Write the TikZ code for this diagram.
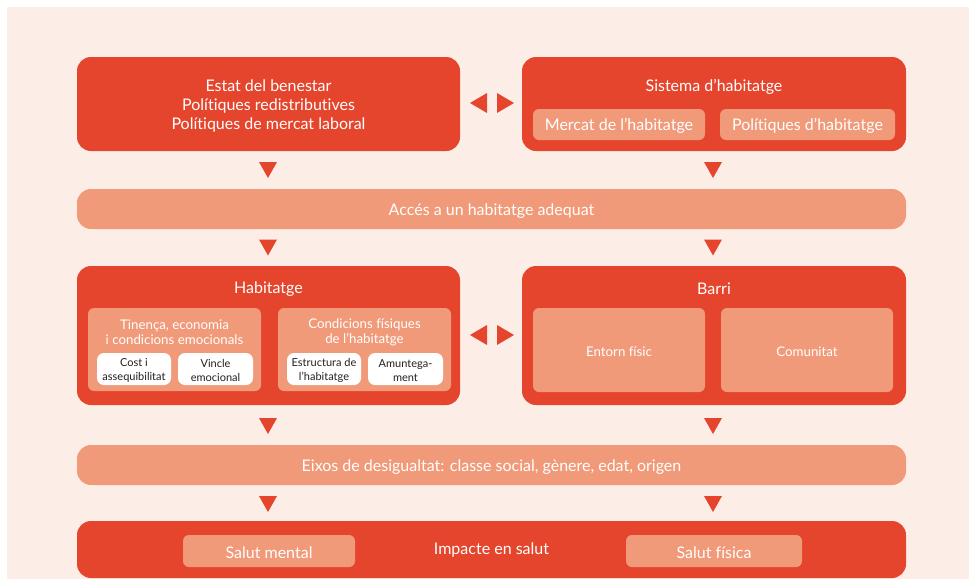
\documentclass[tikz,border=0pt]{standalone}
\usepackage{fontspec}
\setmainfont{Lato}[Ligatures=NoCommon]
\definecolor{cred}{HTML}{E5452C}
\definecolor{csal}{HTML}{F19A79}
\definecolor{cbg}{HTML}{FCEEE7}
\definecolor{cdark}{HTML}{231F20}
\tikzset{
  box/.style={rectangle, inner sep=0pt, outer sep=0pt},
  bigbox/.style={box, fill=cred, rounded corners=14pt},
  bar/.style={box, fill=csal, rounded corners=14pt},
  subbox/.style={box, fill=csal, rounded corners=6pt},
  wbox/.style={box, fill=white, rounded corners=7pt},
  tx/.style={inner sep=0pt, outer sep=0pt, align=center, text=white, yshift=-1.6pt},
  big/.style={font=\fontsize{16}{19}\selectfont},
  mid/.style={font=\fontsize{13.3}{15.5}\selectfont},
  sml/.style={font=\fontsize{11}{13.5}\selectfont, text=cdark},
  ttl/.style={tx, big},
  sttl/.style={tx, mid},
  downtri/.pic={\fill[cred] (-9,-8) -- (9,-8) -- (0,8) -- cycle;},
  lefttri/.pic={\fill[cred] (8.5,-10) -- (8.5,10) -- (-8.5,0) -- cycle;},
  righttri/.pic={\fill[cred] (-8.5,-10) -- (-8.5,10) -- (8.5,0) -- cycle;}
}
\begin{document}
\begin{tikzpicture}[x=1pt,y=-1pt]
\useasboundingbox (0,0) rectangle (969,579);
\fill[cbg] (7,7) rectangle (969,579);
% top row
\node[bigbox, minimum width=383pt, minimum height=94pt,
  label={[tx,big]center:{Estat del benestar\\Polítiques redistributives\\Polítiques de mercat laboral}}] (estat) at (268.5,104) {};
\node[bigbox, minimum width=384pt, minimum height=94pt] (sistema) at (714,104) {};
\node[ttl] (sistemaT) at (714,85) {Sistema d’habitatge};
\node[subbox, minimum width=172pt, minimum height=31pt, label={[tx,big]center:{Mercat de l’habitatge}}] (mercat) at (619,124.5) {};
\node[subbox, minimum width=175pt, minimum height=31pt, label={[tx,big]center:{Polítiques d’habitatge}}] (polit) at (807.5,124.5) {};
\pic at (478.5,103) {lefttri};
\pic at (505.5,103) {righttri};
\pic at (268,170) {downtri};
\pic at (713,170) {downtri};
% acces
\node[bar, minimum width=829pt, minimum height=40pt, label={[tx,big]center:{Accés a un habitatge adequat}}] (acces) at (491.5,209) {};
\pic at (268,247.5) {downtri};
\pic at (713,247.5) {downtri};
% middle row
\node[bigbox, minimum width=383pt, minimum height=139pt] (habitatge) at (268.5,335.5) {};
\node[ttl] (habitatgeT) at (268.5,287) {Habitatge};
\node[subbox, minimum width=173pt, minimum height=83pt] (tinenca) at (174.5,349.5) {};
\node[sttl] (tinencaT) at (174.5,330.5) {Tinença, economia\\i condicions emocionals};
\node[subbox, minimum width=173pt, minimum height=83pt] (condic) at (364.5,349.5) {};
\node[sttl] (condicT) at (364.5,330.5) {Condicions físiques\\de l’habitatge};
\node[wbox, minimum width=74pt, minimum height=32pt, label={[tx,sml]center:{Cost i\\assequibilitat}}] (cost) at (134,369) {};
\node[wbox, minimum width=75pt, minimum height=32pt, label={[tx,sml]center:{Vincle\\emocional}}] (vincle) at (215.5,369) {};
\node[wbox, minimum width=74pt, minimum height=32pt, label={[tx,sml]center:{Estructura de\\l’habitatge}}] (estructura) at (324,369) {};
\node[wbox, minimum width=75pt, minimum height=32pt, label={[tx,sml]center:{Amuntega-\\ment}}] (amuntega) at (405.5,369) {};
\node[bigbox, minimum width=384pt, minimum height=139pt] (barri) at (714,335.5) {};
\node[ttl] (barriT) at (714,287) {Barri};
\node[subbox, minimum width=172pt, minimum height=84pt, label={[tx,mid]center:{Entorn físic}}] (entorn) at (619,350) {};
\node[subbox, minimum width=172pt, minimum height=84pt, label={[tx,mid]center:{Comunitat}}] (comunitat) at (807,350) {};
\pic at (478.5,335) {lefttri};
\pic at (505.5,335) {righttri};
\pic at (268,426) {downtri};
\pic at (713,426) {downtri};
% eixos
\node[bar, minimum width=829pt, minimum height=40pt, label={[tx,big]center:{Eixos de desigualtat: classe social, gènere, edat, origen}}] (eixos) at (491.5,465) {};
\pic at (268,504) {downtri};
\pic at (713,504) {downtri};
% impacte
\node[bigbox, minimum width=829pt, minimum height=57pt] (impacte) at (491.5,549.5) {};
\node[ttl] (impacteT) at (491.5,548) {Impacte en salut};
\node[subbox, minimum width=172pt, minimum height=32pt, label={[tx,big]center:{Salut mental}}] (mental) at (269,551) {};
\node[subbox, minimum width=176pt, minimum height=32pt, label={[tx,big]center:{Salut física}}] (fisica) at (714,551) {};
\end{tikzpicture}
\end{document}
